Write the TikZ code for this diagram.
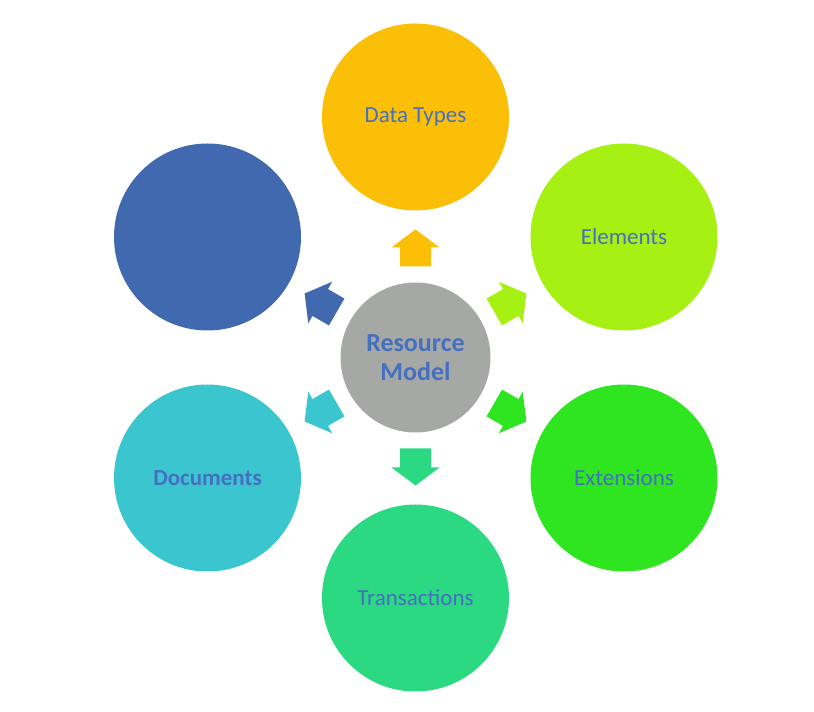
\documentclass[tikz,border=0pt]{standalone}
\usepackage{fontspec}
\setmainfont{Carlito}
\definecolor{cgold}{HTML}{FCBF07}
\definecolor{clime}{HTML}{A7F014}
\definecolor{cgreen}{HTML}{2EE51F}
\definecolor{cmint}{HTML}{2BD982}
\definecolor{ccyan}{HTML}{3BC6CF}
\definecolor{cblue}{HTML}{4169B0}
\definecolor{cgrey}{HTML}{A5A8A5}
\definecolor{ctext}{HTML}{4570C0}
\begin{document}
\begin{tikzpicture}[x=1pt,y=1pt,
  outer/.style={circle,inner sep=0pt,minimum size=187pt,text=ctext,font=\fontsize{23}{27}\selectfont},
  hub/.style={circle,inner sep=0pt,minimum size=150pt,fill=cgrey,text=ctext,align=center,font=\fontsize{26}{29.3}\selectfont\bfseries},
  pics/outarrow/.style={code={
    \fill[#1] (91,-15.5) -- (110,-15.5) -- (110,-24) -- (128,0) -- (110,24) -- (110,15.5) -- (91,15.5) -- cycle;}}]
\useasboundingbox (0,0) rectangle (814,712);
\node[hub] (c) at (415.5,354.5) {Resource\\Model};
\node[outer,fill=cgold] (dt) at (415.5,595) {Data Types};
\node[outer,fill=clime] (el) at (624,475) {Elements};
\node[outer,fill=cgreen] (ex) at (624,234) {Extensions};
\node[outer,fill=cmint] (tr) at (415.5,114) {Transactions};
\node[outer,fill=ccyan,font=\fontsize{23}{27}\selectfont\bfseries] (dc) at (207.5,234) {Documents};
\node[outer,fill=cblue] (pr) at (207.5,475) {};
\pic[rotate=90] at (c) {outarrow=cgold};
\pic[rotate=30] at (c) {outarrow=clime};
\pic[rotate=-30] at (c) {outarrow=cgreen};
\pic[rotate=-90] at (c) {outarrow=cmint};
\pic[rotate=-150] at (c) {outarrow=ccyan};
\pic[rotate=150] at (c) {outarrow=cblue};
\end{tikzpicture}
\end{document}
